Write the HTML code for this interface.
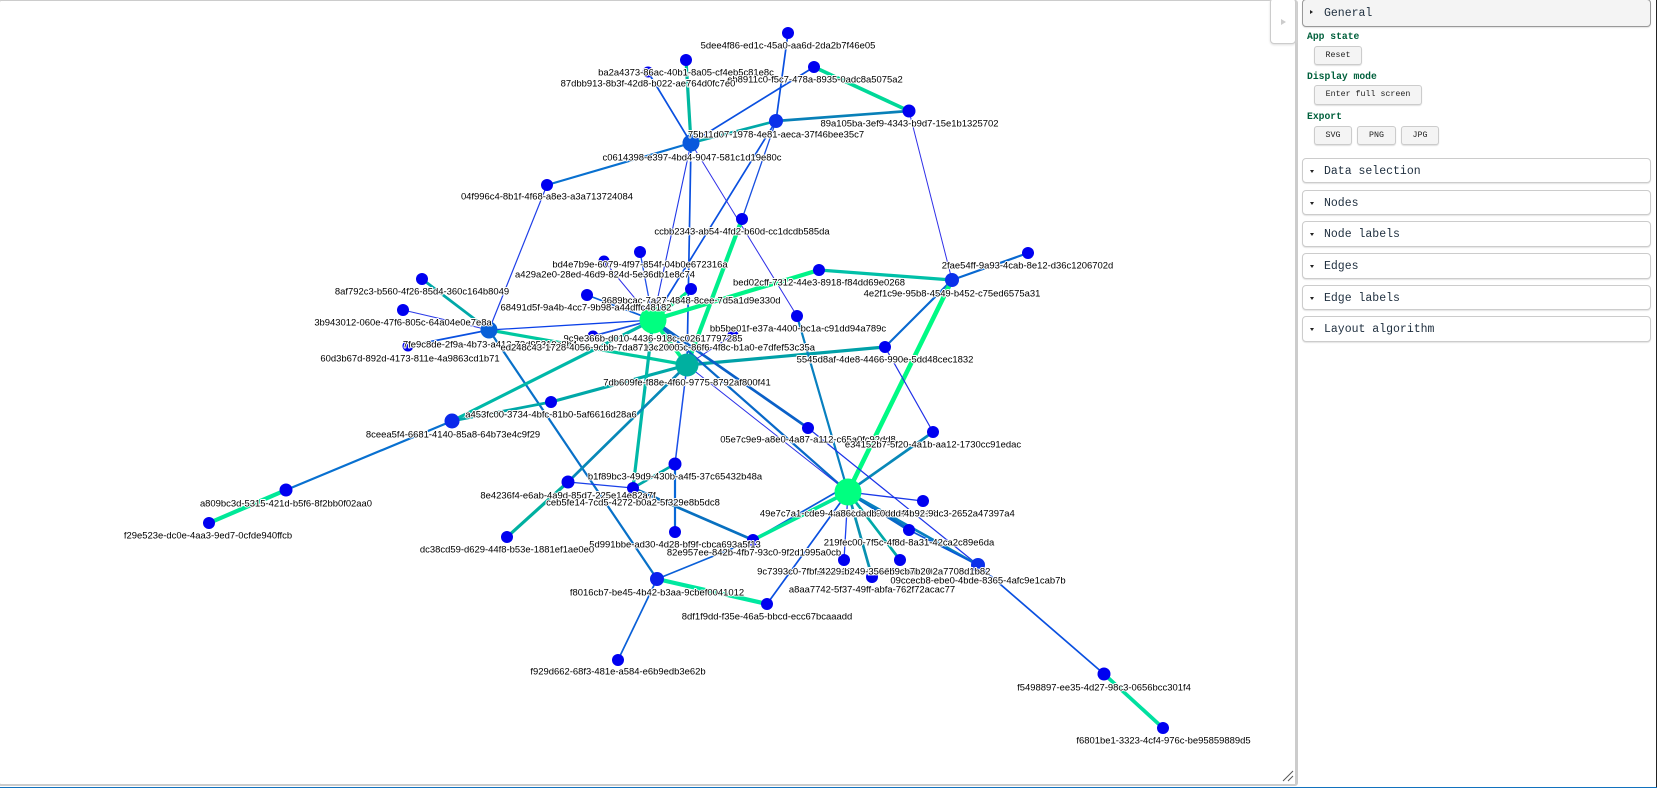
<!DOCTYPE html>
<html><head><meta charset="utf-8"><title>Network</title>
<style>
html,body{margin:0;padding:0;width:1657px;height:788px;overflow:hidden;background:#fff}
#frame{position:absolute;left:-2px;top:0;width:1296px;height:783px;border:1px solid #ccc;border-width:1px 2px 2px 2px;border-radius:3px;box-sizing:content-box}
svg.g{position:absolute;left:0;top:0}
svg.g text{font-family:"Liberation Sans",Arial,sans-serif;font-size:9.45px;text-anchor:middle;fill:#000;paint-order:stroke;stroke:#fff;stroke-width:2px;stroke-linejoin:round}
#tog{position:absolute;left:1270px;top:-2px;width:24px;height:44px;border:1px solid #ccc;border-radius:4px;background:#fff;box-shadow:0 1px 2px #ddd}
#tog:after{content:"";position:absolute;left:10px;top:20px;border-left:5px solid #ccc;border-top:3px solid transparent;border-bottom:3px solid transparent}
#sep{position:absolute;left:1295px;top:0;width:1px;height:784px;background:#ccc}
.p{position:absolute;left:1302px;width:347px;border:1px solid #ccc;border-radius:4px;background:#fff;box-shadow:0 1px 1px #e4e4e4;font:11.5px/1 "Liberation Mono",monospace;color:#203040;box-sizing:content-box}
.p span{position:absolute;left:21px;top:7px;white-space:pre}
.p i{position:absolute;left:7px;top:11px;border-top:3px solid #222;border-left:2px solid transparent;border-right:2px solid transparent}
.p.o{background:#f4f4f4;border-color:#999}
.p.o i{top:10px;border-left:3px solid #222;border-top:2px solid transparent;border-bottom:2px solid transparent;border-right:0}
.h{position:absolute;left:1307px;font:bold 9.7px/1 "Liberation Mono",monospace;color:#00603c;white-space:pre}
.b{position:absolute;border:1px solid #ccc;border-radius:3px;background:#f4f4f4;box-shadow:0 1px 1px #e0e0e0;font:8.3px/1 "Liberation Mono",monospace;color:#222;text-align:center;box-sizing:border-box;white-space:pre}
#bb{position:absolute;left:0;top:787px;width:1657px;height:1px;background:#1272be}
#rb{position:absolute;left:1656px;top:0;width:1px;height:787px;background:#222}
</style></head><body>
<div id="frame"></div>
<svg class="g" width="1296" height="783" viewBox="0 0 1296 783">
<g fill="none" stroke-linecap="round">
<line x1="648" y1="72" x2="691" y2="143" stroke="#0a50e0" stroke-width="1.7"/>
<line x1="686" y1="60" x2="691" y2="143" stroke="#00b8a0" stroke-width="3.2"/>
<line x1="691" y1="143" x2="547" y2="185" stroke="#0870d0" stroke-width="2.2"/>
<line x1="691" y1="143" x2="776" y2="121" stroke="#00a8a8" stroke-width="2.7"/>
<line x1="691" y1="143" x2="814" y2="67" stroke="#0a50e0" stroke-width="1.7"/>
<line x1="788" y1="33" x2="776" y2="121" stroke="#0a50e0" stroke-width="1.7"/>
<line x1="776" y1="121" x2="909" y2="111" stroke="#0880b8" stroke-width="2.7"/>
<line x1="814" y1="67" x2="909" y2="111" stroke="#00d898" stroke-width="3.7"/>
<line x1="776" y1="121" x2="742" y2="219" stroke="#1850e0" stroke-width="1.3"/>
<line x1="776" y1="121" x2="653" y2="320" stroke="#0a50e0" stroke-width="1.7"/>
<line x1="691" y1="143" x2="653" y2="320" stroke="#2038e8" stroke-width="1.1"/>
<line x1="691" y1="143" x2="687" y2="365" stroke="#0a50e0" stroke-width="1.7"/>
<line x1="691" y1="143" x2="797" y2="316" stroke="#3030e8" stroke-width="1"/>
<line x1="909" y1="111" x2="952" y2="280" stroke="#3030e8" stroke-width="1"/>
<line x1="742" y1="219" x2="687" y2="365" stroke="#00ee8c" stroke-width="4.2"/>
<line x1="547" y1="185" x2="489" y2="330" stroke="#2040e8" stroke-width="1.2"/>
<line x1="422" y1="279" x2="489" y2="330" stroke="#00a8a8" stroke-width="2.7"/>
<line x1="403" y1="310" x2="489" y2="330" stroke="#2a3ae8" stroke-width="1.1"/>
<line x1="408" y1="346" x2="489" y2="330" stroke="#0a50e0" stroke-width="1.7"/>
<line x1="489" y1="330" x2="653" y2="320" stroke="#0a40e8" stroke-width="1.3"/>
<line x1="489" y1="330" x2="687" y2="365" stroke="#00c8a0" stroke-width="3.2"/>
<line x1="489" y1="330" x2="657" y2="579" stroke="#0870c8" stroke-width="2.2"/>
<line x1="587" y1="295" x2="653" y2="320" stroke="#0a60d8" stroke-width="1.7"/>
<line x1="640" y1="252" x2="653" y2="320" stroke="#2050e8" stroke-width="1.3"/>
<line x1="604" y1="261" x2="653" y2="320" stroke="#3030e8" stroke-width="1"/>
<line x1="691" y1="289" x2="653" y2="320" stroke="#00e890" stroke-width="3.2"/>
<line x1="593" y1="336" x2="653" y2="320" stroke="#1a50e0" stroke-width="1.7"/>
<line x1="819" y1="270" x2="653" y2="320" stroke="#00f488" stroke-width="4.2"/>
<line x1="819" y1="270" x2="952" y2="280" stroke="#00c0a8" stroke-width="3.2"/>
<line x1="1028" y1="253" x2="952" y2="280" stroke="#0868d0" stroke-width="2.2"/>
<line x1="952" y1="280" x2="885" y2="347" stroke="#0868d0" stroke-width="2.2"/>
<line x1="952" y1="280" x2="848" y2="492" stroke="#00fa84" stroke-width="4.6"/>
<line x1="885" y1="347" x2="687" y2="365" stroke="#00a0a8" stroke-width="3.2"/>
<line x1="885" y1="347" x2="933" y2="432" stroke="#2030e8" stroke-width="1.2"/>
<line x1="797" y1="316" x2="848" y2="492" stroke="#0880c0" stroke-width="2.2"/>
<line x1="933" y1="432" x2="848" y2="492" stroke="#0888b8" stroke-width="2.7"/>
<line x1="653" y1="320" x2="808" y2="428" stroke="#0a60c8" stroke-width="2.7"/>
<line x1="653" y1="320" x2="848" y2="492" stroke="#0868c8" stroke-width="2.2"/>
<line x1="687" y1="365" x2="848" y2="492" stroke="#2a30e8" stroke-width="1"/>
<line x1="808" y1="428" x2="978" y2="565" stroke="#1c34e8" stroke-width="1.2"/>
<line x1="733" y1="335" x2="687" y2="365" stroke="#2a30e8" stroke-width="1"/>
<line x1="653" y1="320" x2="687" y2="365" stroke="#00f488" stroke-width="3.7"/>
<line x1="452" y1="421" x2="653" y2="320" stroke="#00b8a8" stroke-width="3.2"/>
<line x1="551" y1="402" x2="687" y2="365" stroke="#00a8a8" stroke-width="3.2"/>
<line x1="551" y1="402" x2="452" y2="421" stroke="#00a8a8" stroke-width="2.7"/>
<line x1="452" y1="421" x2="286" y2="490" stroke="#0870d0" stroke-width="2.2"/>
<line x1="286" y1="490" x2="209" y2="523" stroke="#00e898" stroke-width="4.2"/>
<line x1="653" y1="320" x2="633" y2="488" stroke="#00b8a8" stroke-width="3.2"/>
<line x1="687" y1="365" x2="568" y2="482" stroke="#0888b8" stroke-width="2.7"/>
<line x1="568" y1="482" x2="507" y2="537" stroke="#00b0a0" stroke-width="3.2"/>
<line x1="568" y1="482" x2="633" y2="488" stroke="#1a40e8" stroke-width="1.3"/>
<line x1="633" y1="488" x2="675" y2="464" stroke="#00a8a8" stroke-width="2.7"/>
<line x1="675" y1="464" x2="687" y2="365" stroke="#1a50e8" stroke-width="1.5"/>
<line x1="675" y1="464" x2="675" y2="532" stroke="#0868d8" stroke-width="2.2"/>
<line x1="633" y1="488" x2="753" y2="540" stroke="#0870c0" stroke-width="2.7"/>
<line x1="753" y1="540" x2="657" y2="579" stroke="#0a60d8" stroke-width="1.7"/>
<line x1="753" y1="540" x2="840" y2="490" stroke="#0a58d8" stroke-width="1.7"/>
<line x1="753" y1="540" x2="848" y2="492" stroke="#00e898" stroke-width="3.7"/>
<line x1="657" y1="579" x2="767" y2="604" stroke="#00e8a0" stroke-width="4.2"/>
<line x1="657" y1="579" x2="618" y2="660" stroke="#0a60d8" stroke-width="1.7"/>
<line x1="767" y1="604" x2="848" y2="492" stroke="#0a50e0" stroke-width="1.7"/>
<line x1="848" y1="492" x2="923" y2="501" stroke="#1a38e8" stroke-width="1.3"/>
<line x1="848" y1="492" x2="909" y2="530" stroke="#0868c8" stroke-width="3.2"/>
<line x1="848" y1="492" x2="978" y2="565" stroke="#0880c0" stroke-width="2.7"/>
<line x1="848" y1="492" x2="844" y2="560" stroke="#1a40f0" stroke-width="1.3"/>
<line x1="848" y1="492" x2="900" y2="560" stroke="#00a8a8" stroke-width="2.7"/>
<line x1="848" y1="492" x2="872" y2="577" stroke="#0890b0" stroke-width="2.7"/>
<line x1="909" y1="530" x2="978" y2="565" stroke="#0a58d8" stroke-width="1.7"/>
<line x1="978" y1="565" x2="1104" y2="674" stroke="#0a50e0" stroke-width="1.7"/>
<line x1="1104" y1="674" x2="1163" y2="728" stroke="#00e0a0" stroke-width="3.7"/>
</g>
<g fill="#0000f0">
<circle cx="648" cy="72" r="5.5"/><circle cx="686" cy="60" r="6"/><circle cx="547" cy="185" r="6"/>
<circle cx="788" cy="33" r="6"/><circle cx="814" cy="67" r="6"/><circle cx="909" cy="111" r="6.5"/>
<circle cx="742" cy="219" r="6"/><circle cx="422" cy="279" r="6"/><circle cx="403" cy="310" r="6"/>
<circle cx="408" cy="346" r="5.5"/><circle cx="587" cy="295" r="6"/><circle cx="640" cy="252" r="6"/>
<circle cx="604" cy="261" r="5.5"/><circle cx="691" cy="289" r="6"/><circle cx="593" cy="336" r="5.5"/>
<circle cx="733" cy="335" r="5.5"/><circle cx="797" cy="316" r="6"/><circle cx="819" cy="270" r="6"/>
<circle cx="1028" cy="253" r="6"/><circle cx="885" cy="347" r="6"/><circle cx="808" cy="428" r="6"/>
<circle cx="933" cy="432" r="6"/><circle cx="551" cy="402" r="6"/><circle cx="286" cy="490" r="6.5"/>
<circle cx="209" cy="523" r="6"/><circle cx="568" cy="482" r="6.5"/><circle cx="633" cy="488" r="6"/>
<circle cx="675" cy="464" r="6.5"/><circle cx="507" cy="537" r="6"/><circle cx="675" cy="532" r="6"/>
<circle cx="753" cy="540" r="6"/><circle cx="767" cy="604" r="6"/><circle cx="618" cy="660" r="6"/>
<circle cx="923" cy="501" r="6"/><circle cx="909" cy="530" r="6"/><circle cx="844" cy="560" r="6"/>
<circle cx="900" cy="560" r="6"/><circle cx="872" cy="577" r="6"/><circle cx="1104" cy="674" r="6.5"/>
<circle cx="1163" cy="728" r="6"/>
<circle cx="776" cy="121" r="7" fill="#0a30ea"/><circle cx="952" cy="280" r="7" fill="#0a30ea"/>
<circle cx="452" cy="421" r="7.5" fill="#0a28ea"/><circle cx="657" cy="579" r="7" fill="#0a20ec"/>
<circle cx="978" cy="565" r="7" fill="#0a30ea"/>
<circle cx="691" cy="143" r="8.5" fill="#0858dc"/><circle cx="489" cy="330" r="8.5" fill="#0860d8"/>
<circle cx="687" cy="365" r="11.5" fill="#00b0a0"/>
<circle cx="653" cy="320" r="13.5" fill="#00ff80"/><circle cx="848" cy="492" r="13.5" fill="#00ff80"/>
</g>
<g transform="translate(0,.7)">
<text x="788" y="48">5dee4f86-ed1c-45a0-aa6d-2da2b7f46e05</text>
<text x="686" y="75">ba2a4373-86ac-40b1-8a05-cf4eb5c81e8c</text>
<text x="815" y="82">eb8911c0-f5c7-478a-8935-0adc8a5075a2</text>
<text x="648" y="86">87dbb913-8b3f-42d8-b022-ae764d0fc7e0</text>
<text x="909.5" y="126">89a105ba-3ef9-4343-b9d7-15e1b1325702</text>
<text x="776" y="137">75b11d07-1978-4e81-aeca-37f46bee35c7</text>
<text x="692" y="160">c0614398-e397-4bd4-9047-581c1d19e80c</text>
<text x="547" y="199">04f996c4-8b1f-4f68-a8e3-a3a713724084</text>
<text x="742" y="234">ccbb2343-ab54-4fd2-b60d-cc1dcdb585da</text>
<text x="640" y="267">bd4e7b9e-6079-4f97-854f-04b0e672316a</text>
<text x="1027.5" y="268">2fae54ff-9a93-4cab-8e12-d36c1206702d</text>
<text x="605" y="277">a429a2e0-28ed-46d9-824d-5e36db1e8c74</text>
<text x="819" y="285">bed02cff-7312-44e3-8918-f84dd69e0268</text>
<text x="422" y="294">8af792c3-b560-4f26-85d4-360c164b8049</text>
<text x="952" y="296">4e2f1c9e-95b8-4549-b452-c75ed6575a31</text>
<text x="691" y="303">3689bcac-7a27-4848-8cee-7d5a1d9e330d</text>
<text x="586" y="310">68491d5f-9a4b-4cc7-9b98-a44dffc48182</text>
<text x="403" y="325">3b943012-060e-47f6-805c-64a04e0e7e8a</text>
<text x="798" y="331">bb5be01f-e37a-4400-bc1a-c91dd94a789c</text>
<text x="653" y="341">9c9e366b-d010-4436-918c-c02617797285</text>
<text x="490" y="347">7fe9c8de-2f9a-4b73-a413-72d95319c8b4</text>
<text x="731" y="350">0a1b2c5c-86f6-4f8c-b1a0-e7dfef53c35a</text>
<text x="590" y="350">ed248c43-1728-4056-9cbb-7da8713c2000</text>
<text x="410" y="361">60d3b67d-892d-4173-811e-4a9863cd1b71</text>
<text x="885" y="362">5545d8af-4de8-4466-990e-5dd48cec1832</text>
<text x="687" y="385">7db609fe-f88e-4f60-9775-8792af800f41</text>
<text x="551" y="417">a453fc00-3734-4bfc-81b0-5af6616d28a6</text>
<text x="453" y="437">8ceea5f4-6681-4140-85a8-64b73e4c9f29</text>
<text x="808" y="442">05e7c9e9-a8e0-4a87-a112-c65a0fc92dd8</text>
<text x="933" y="447">e34152b7-5f20-4a1b-aa12-1730cc91edac</text>
<text x="675" y="479">b1f89bc3-49d9-430b-a4f5-37c65432b48a</text>
<text x="568" y="498">8e4236f4-e6ab-4a9d-85d7-225e14e82a7f</text>
<text x="633" y="505">ceb5fe14-7cd5-4272-b0a2-5f329e8b5dc8</text>
<text x="286" y="506">a809bc3d-5315-421d-b5f6-8f2bb0f02aa0</text>
<text x="848" y="516">49e7c7a1-cde9-4a88-b1c3-6d0e2f7a9b14</text>
<text x="925" y="516">a86cdadb-0ddd-4b92-9dc3-2652a47397a4</text>
<text x="208" y="538">f29e523e-dc0e-4aa3-9ed7-0cfde940ffcb</text>
<text x="909" y="545">219fec00-7f5c-4f8d-8a31-42ca2c89e6da</text>
<text x="754" y="555">82e957ee-842b-4fb7-93c0-9f2d1995a0cb</text>
<text x="675" y="547">5d991bbe-ad30-4d28-bf9f-cbca693a5f13</text>
<text x="507" y="552">dc38cd59-d629-44f8-b53e-1881ef1ae0e0</text>
<text x="902" y="574">11f34229-c249-4356-b7b2-02a7708d1b82</text>
<text x="844" y="574">9c7393c0-7fbf-4229-b249-356eb9cb7b20</text>
<text x="978" y="583">09ccecb8-ebe0-4bde-8365-4afc9e1cab7b</text>
<text x="872" y="592">a8aa7742-5f37-49ff-abfa-762f72acac77</text>
<text x="657" y="595">f8016cb7-be45-4b42-b3aa-9cbef0041012</text>
<text x="767" y="619">8df1f9dd-f35e-46a5-bbcd-ecc67bcaaadd</text>
<text x="618" y="674">f929d662-68f3-481e-a584-e6b9edb3e62b</text>
<text x="1104" y="690">f5498897-ee35-4d27-98c3-0656bcc301f4</text>
<text x="1163.5" y="743">f6801be1-3323-4cf4-976c-be95859889d5</text>
</g>
<g stroke="#555" stroke-width="1"><line x1="1283" y1="781" x2="1293" y2="771"/><line x1="1288" y1="781" x2="1293" y2="776"/></g>
</svg>
<div id="tog"></div>
<div id="sep"></div>
<div class="p o" style="top:-1px;height:26px"><i></i><span style="top:8px">General</span></div>
<div class="h" style="top:32px">App state</div>
<div class="b" style="left:1314px;top:46px;width:48px;height:19px;line-height:17px">Reset</div>
<div class="h" style="top:72px">Display mode</div>
<div class="b" style="left:1314px;top:85px;width:108px;height:20px;line-height:18px">Enter full screen</div>
<div class="h" style="top:112px">Export</div>
<div class="b" style="left:1314px;top:126px;width:38px;height:19px;line-height:17px">SVG</div>
<div class="b" style="left:1357px;top:126px;width:39px;height:19px;line-height:17px">PNG</div>
<div class="b" style="left:1401px;top:126px;width:38px;height:19px;line-height:17px">JPG</div>
<div class="p" style="top:158px;height:23px"><i></i><span>Data selection</span></div>
<div class="p" style="top:190px;height:23px"><i></i><span>Nodes</span></div>
<div class="p" style="top:221px;height:24px"><i></i><span>Node labels</span></div>
<div class="p" style="top:253px;height:24px"><i></i><span>Edges</span></div>
<div class="p" style="top:285px;height:23px"><i></i><span>Edge labels</span></div>
<div class="p" style="top:316px;height:24px"><i></i><span>Layout algorithm</span></div>
<div id="rb"></div><div id="bb"></div>
</body></html>
